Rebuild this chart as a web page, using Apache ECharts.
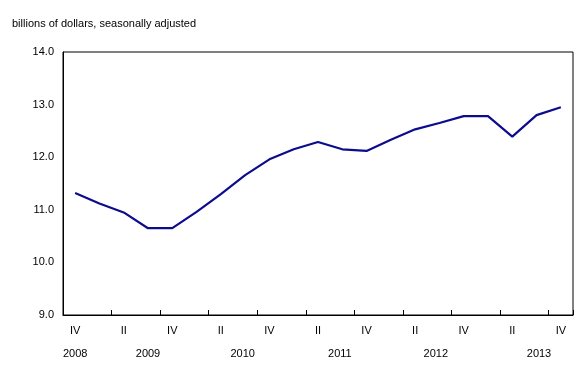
<!DOCTYPE html>
<html><head><meta charset="utf-8">
<script src="https://cdn.jsdelivr.net/npm/echarts@6/dist/echarts.min.js"></script>
<style>html,body{margin:0;padding:0;background:#fff}#c{width:588px;height:380px}</style>
</head><body><div id="c"></div>
<script>
var quarters = ['IV','I','II','III','IV','I','II','III','IV','I','II','III','IV','I','II','III','IV','I','II','III','IV'];
var values = [11.32,11.12,10.95,10.65,10.65,10.96,11.30,11.66,11.96,12.15,12.29,12.15,12.12,12.33,12.53,12.65,12.78,12.78,12.39,12.80,12.95];
var yearLabels = ['2008','2009','2010','2011','2012','2013'];
var yearAt = [0, 3, 6.9, 10.9, 14.85, 19.1];
var yTicks = [9, 10, 11, 12, 13, 14];

var font = 'Liberation Sans, Arial, sans-serif';
var chart = echarts.init(document.getElementById('c'), null, {renderer:'canvas'});
chart.setOption({
  animation: false,
  title: {text: 'billions of dollars, seasonally adjusted', left: 12, top: 18, padding: 0,
    textStyle: {fontFamily: font, fontSize: 11, fontWeight: 'normal', color: '#000'}},
  grid: {left: 63, right: 15, top: 52, bottom: 65, show: true, borderColor: '#000', borderWidth: 1},
  xAxis: [{
    type: 'category', data: quarters, boundaryGap: true,
    axisLine: {onZero: false, lineStyle: {color: '#000', width: 1}},
    axisTick: {show: true, interval: 1, length: 5, inside: true, lineStyle: {color: '#000', width: 1}},
    axisLabel: {interval: 1, color: '#000', fontFamily: font, fontSize: 11, margin: 10}
  }, {
    type: 'value', position: 'bottom', min: -0.5, max: 20.5,
    axisLine: {show: false, onZero: false}, axisTick: {show: false}, splitLine: {show: false},
    axisLabel: {customValues: yearAt, color: '#000', fontFamily: font, fontSize: 11, margin: 33,
      formatter: function(v){ var i = yearAt.indexOf(v); return i >= 0 ? yearLabels[i] : ''; }}
  }],
  yAxis: {
    type: 'value', min: yTicks[0], max: yTicks[yTicks.length-1], interval: 1,
    axisLine: {show: true, onZero: false, lineStyle: {color: '#000'}},
    axisTick: {show: false}, splitLine: {show: false},
    axisLabel: {color: '#000', fontFamily: font, fontSize: 11, margin: 9,
      formatter: function(v){ return v.toFixed(1); }}
  },
  series: [{
    type: 'line', data: values, xAxisIndex: 0, symbol: 'none',
    lineStyle: {color: '#0c0c8c', width: 2.2}
  }]
});
</script></body></html>
